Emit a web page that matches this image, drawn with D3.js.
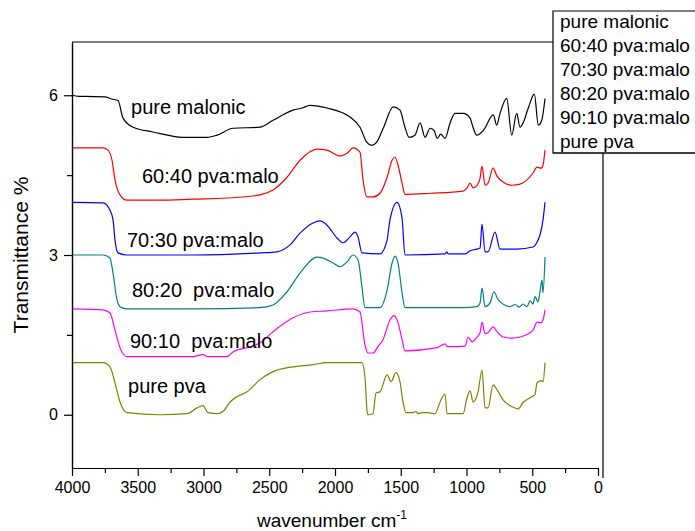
<!DOCTYPE html>
<html>
<head>
<meta charset="utf-8">
<script src="https://cdn.jsdelivr.net/npm/d3@7"></script>
<style>
  html, body { margin: 0; background: #fff; overflow: hidden; }
  svg { display: block; font-family: "Liberation Sans", Arial, sans-serif; }
</style>
</head>
<body>
<svg id="chart"></svg>
<script>
// spectra, [wavenumber, transmittance (offset)]
const pureMalonic = [[4000,6.0],[3950,5.98],[3900,5.98],[3750,5.97],[3700,5.93],[3650,5.90],[3612,5.57],[3536,5.40],[3384,5.31],[3156,5.21],[2973,5.21],[2897,5.25],[2776,5.38],[2570,5.40],[2471,5.53],[2319,5.72],[2250,5.76],[2190,5.81],[2061,5.76],[1886,5.59],[1810,5.40],[1759,5.12],[1721,5.06],[1683,5.12],[1633,5.38],[1557,5.78],[1506,5.72],[1468,5.40],[1437,5.21],[1392,5.25],[1353,5.48],[1315,5.21],[1277,5.38],[1247,5.34],[1222,5.19],[1196,5.27],[1163,5.19],[1125,5.48],[1087,5.66],[1024,5.66],[973,5.57],[948,5.38],[922,5.25],[872,5.34],[796,5.63],[770,5.44],[745,5.66],[694,5.94],[656,5.25],[618,5.66],[593,5.40],[568,5.49],[530,5.76],[484,6.02],[454,5.44],[428,5.53],[403,5.94]];
const pva6040 = [[4000,5.01],[3764,5.01],[3726,4.97],[3696,4.78],[3673,4.41],[3635,4.13],[3582,4.03],[3331,4.03],[3080,4.05],[2821,4.07],[2570,4.13],[2471,4.22],[2365,4.46],[2266,4.78],[2137,4.99],[2061,4.97],[1962,4.86],[1909,4.91],[1863,5.01],[1810,4.93],[1787,4.41],[1757,4.09],[1711,4.09],[1658,4.16],[1604,4.46],[1566,4.78],[1544,4.84],[1521,4.69],[1490,4.35],[1468,4.14],[1277,4.16],[1026,4.20],[996,4.26],[973,4.35],[950,4.26],[920,4.31],[897,4.44],[882,4.67],[859,4.31],[836,4.35],[798,4.63],[768,4.48],[722,4.37],[654,4.31],[593,4.33],[494,4.54],[464,4.65],[433,4.63],[418,4.69],[403,4.97]];
const pva7030 = [[4000,3.99],[3764,3.98],[3711,3.84],[3688,3.66],[3673,3.28],[3650,3.04],[3582,3.00],[3080,3.00],[2570,3.04],[2441,3.06],[2342,3.19],[2266,3.41],[2167,3.60],[2114,3.64],[2061,3.56],[1985,3.32],[1939,3.23],[1886,3.34],[1848,3.43],[1825,3.34],[1795,3.04],[1658,3.02],[1604,3.28],[1582,3.66],[1528,3.99],[1490,3.69],[1468,3.00],[1163,3.02],[1148,3.06],[1141,3.02],[1011,3.02],[973,3.08],[920,3.11],[897,3.13],[882,3.58],[859,3.06],[836,3.06],[783,3.43],[745,3.11],[616,3.11],[494,3.15],[464,3.24],[441,3.38],[418,3.66],[403,3.99]];
const pva8020 = [[4000,3.0],[3764,3.0],[3711,2.94],[3688,2.66],[3658,2.16],[3635,2.03],[3582,1.99],[3080,1.99],[2570,2.01],[2471,2.06],[2365,2.31],[2266,2.66],[2137,2.96],[2091,2.94],[2015,2.85],[1962,2.78],[1909,2.87],[1863,3.00],[1825,2.91],[1795,2.40],[1772,2.01],[1658,2.01],[1604,2.34],[1566,2.85],[1544,2.98],[1521,2.85],[1490,2.29],[1468,2.01],[1026,2.01],[920,2.03],[897,2.10],[882,2.38],[859,2.03],[821,2.10],[791,2.31],[760,2.16],[669,2.03],[630,2.07],[600,2.02],[570,2.08],[540,2.03],[517,2.14],[494,2.08],[479,2.22],[456,2.12],[441,2.31],[426,2.53],[418,2.29],[403,2.96]];
const pva9010 = [[4000,1.99],[3764,1.97],[3711,1.91],[3673,1.59],[3635,1.26],[3582,1.09],[3331,1.09],[3080,1.09],[3004,1.13],[2966,1.09],[2821,1.09],[2776,1.18],[2669,1.26],[2570,1.35],[2471,1.56],[2319,1.82],[2190,1.93],[2061,1.95],[1863,1.99],[1810,1.93],[1772,1.31],[1749,1.16],[1711,1.16],[1673,1.28],[1635,1.41],[1582,1.78],[1551,1.86],[1521,1.73],[1490,1.41],[1468,1.20],[1224,1.26],[1163,1.33],[1148,1.28],[1011,1.29],[988,1.46],[958,1.37],[920,1.46],[897,1.54],[882,1.74],[859,1.52],[836,1.54],[798,1.65],[768,1.56],[722,1.46],[654,1.44],[593,1.46],[494,1.59],[464,1.74],[433,1.73],[418,1.78],[403,1.97]];
const purePva = [[4000,0.98],[3764,0.98],[3711,0.90],[3673,0.60],[3635,0.24],[3582,0.04],[3331,0.0],[3125,0.02],[3049,0.13],[3004,0.17],[2966,0.04],[2897,0.02],[2852,0.06],[2798,0.24],[2745,0.34],[2669,0.43],[2570,0.66],[2471,0.81],[2319,0.90],[2167,0.94],[2061,0.98],[1795,0.98],[1772,0.71],[1757,0.09],[1749,0.0],[1711,0.02],[1688,0.41],[1658,0.43],[1604,0.75],[1574,0.62],[1536,0.79],[1506,0.62],[1483,0.24],[1460,0.04],[1407,0.04],[1384,0.06],[1369,0.02],[1338,0.04],[1293,0.04],[1239,0.02],[1201,0.24],[1163,0.39],[1148,0.02],[1026,0.02],[996,0.32],[973,0.45],[950,0.24],[912,0.43],[882,0.84],[859,0.13],[836,0.13],[798,0.56],[768,0.47],[722,0.28],[654,0.15],[608,0.11],[570,0.23],[502,0.34],[479,0.38],[464,0.60],[426,0.64],[418,0.62],[403,0.98]];

const seriesNames = ["pure malonic", "60:40 pva:malo", "70:30 pva:malo", "80:20 pva:malo", "90:10 pva:malo", "pure pva"];
const seriesData = [pureMalonic, pva6040, pva7030, pva8020, pva9010, purePva];
const colors = ["#000000", "#ff0000", "#0000ff", "#008080", "#ff00ff", "#808000"];

// labels written next to each curve: text, wavenumber, value
const curveLabels = ["pure malonic", "60:40 pva:malo", "70:30 pva:malo", "80:20  pva:malo", "90:10  pva:malo", "pure pva"];
const labelWn = [3551, 3468, 3582, 3544, 3559, 3574];
const labelVal = [5.64, 4.35, 3.15, 2.21, 1.26, 0.41];

const xTicks = [4000, 3500, 3000, 2500, 2000, 1500, 1000, 500, 0];
const yTicks = [0, 3, 6];

const width = 695, height = 531;
const plotLeft = 72, plotRight = 598, plotTop = 42, plotBottom = 468;

const svg = d3.select("#chart").attr("width", width).attr("height", height);

const x = d3.scaleLinear().domain([4000, 0]).range([plotLeft, plotRight]);
const y = d3.scaleLinear().domain([-1, 7]).range([plotBottom, plotTop]);

// curves
const line = d3.line()
  .x(d => x(d[0]))
  .y(d => y(d[1]))
  .curve(d3.curveMonotoneX);

svg.append("g")
  .selectAll("path")
  .data(seriesData)
  .join("path")
  .attr("d", line)
  .attr("fill", "none")
  .attr("stroke", (d, i) => colors[i])
  .attr("stroke-width", 1.2);

// axes
svg.append("g")
  .attr("transform", `translate(0,${plotBottom})`)
  .call(d3.axisBottom(x).tickValues(xTicks).tickFormat(d3.format("d"))
    .tickSize(8).tickSizeOuter(0).tickPadding(6));
svg.append("g")
  .attr("transform", `translate(0,${plotBottom})`)
  .call(d3.axisBottom(x).tickValues(d3.range(250, 4000, 500)).tickSize(5).tickSizeOuter(0).tickFormat(""));

svg.append("g")
  .attr("transform", `translate(${plotLeft},0)`)
  .call(d3.axisLeft(y).tickValues(yTicks).tickFormat(d3.format("d"))
    .tickSize(8).tickSizeOuter(0).tickPadding(6));
svg.append("g")
  .attr("transform", `translate(${plotLeft},0)`)
  .call(d3.axisLeft(y).tickValues([1.5, 4.5]).tickSize(5).tickSizeOuter(0).tickFormat(""));

svg.selectAll(".domain, .tick line").attr("stroke", "#000").attr("stroke-width", 1.2);
svg.selectAll(".tick text").attr("fill", "#000").style("font-size", "16px")
  .style("font-family", "'Liberation Sans', Arial, sans-serif");

// top and right frame lines
svg.append("line").attr("x1", plotLeft).attr("x2", 553).attr("y1", plotTop).attr("y2", plotTop)
  .attr("stroke", "#000").attr("stroke-width", 1.2);
svg.append("line").attr("x1", 603).attr("x2", 603).attr("y1", 153).attr("y2", 478)
  .attr("stroke", "#000").attr("stroke-width", 1.2);

// curve labels
svg.append("g")
  .selectAll("text")
  .data(curveLabels)
  .join("text")
  .attr("x", (d, i) => x(labelWn[i]))
  .attr("y", (d, i) => y(labelVal[i]))
  .attr("xml:space", "preserve")
  .style("white-space", "pre")
  .style("font-size", "20px")
  .text(d => d);

// axis titles
svg.append("text")
  .attr("x", 332).attr("y", 527)
  .attr("text-anchor", "middle")
  .style("font-size", "19px")
  .html('wavenumber cm<tspan dy="-8" font-size="12">-1</tspan>');

svg.append("text")
  .attr("transform", "translate(28,255) rotate(-90)")
  .attr("text-anchor", "middle")
  .style("font-size", "21px")
  .text("Transmittance %");

// legend (box runs past the right edge, so only three sides are drawn)
const legend = svg.append("g");
legend.append("path")
  .attr("d", "M700,11H553V153H700")
  .attr("fill", "#fff").attr("stroke", "#000").attr("stroke-width", 1.2);
legend.selectAll("text")
  .data(seriesNames)
  .join("text")
  .attr("x", 560)
  .attr("y", (d, i) => 28 + i * 24)
  .style("font-size", "19px")
  .text(d => d);
// bottom line of legend box drawn over the last entry
legend.append("line").attr("x1", 553).attr("x2", 700).attr("y1", 153).attr("y2", 153)
  .attr("stroke", "#000").attr("stroke-width", 1.2);
</script>
</body>
</html>
